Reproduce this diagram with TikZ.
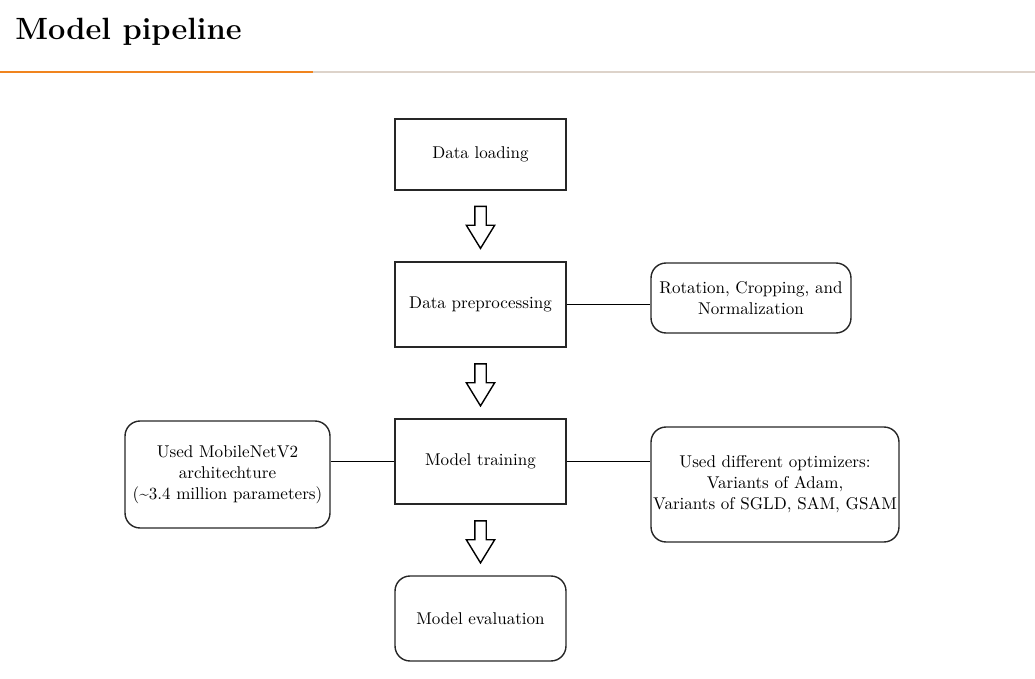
\documentclass[tikz,border=0pt]{standalone}
\usepackage{tikz}
\usetikzlibrary{shapes.arrows,calc}

\definecolor{headorange}{HTML}{F0841E}
\definecolor{headgray}{HTML}{DDD3CA}

\tikzset{
	stepbox/.style={draw=black!85, line width=0.8pt, align=center, font=\fontsize{9.7}{12}\selectfont, inner xsep=1pt, inner ysep=2pt},
	notebox/.style={stepbox, rounded corners=0.3cm},
	blockarrow/.style={single arrow, draw, line width=0.8pt, rotate=-90, anchor=tail, minimum height=0.84cm, inner xsep=0pt, inner ysep=0.1cm, single arrow head extend=0.17cm, single arrow tip angle=63},
	link/.style={line width=0.8pt}
}

\begin{document}
\begin{tikzpicture}[x=0.02cm, y=-0.02cm]
		\useasboundingbox (0,0) rectangle (1035,679);
		%title and rule
		\node[anchor=base west, inner sep=0pt, font=\fontsize{17.5}{21}\selectfont\bfseries] (title) at (15,40) {Model pipeline};
		\draw[headgray, line width=0.8pt] (313,72) -- (1035,72);
		\draw[headorange, line width=0.8pt] (0,72) -- (313,72);
		
		\node[stepbox, minimum width=3.42cm, minimum height=1.42cm] (load) at (480.5,154.5) {Data loading};
		\node[stepbox, minimum width=3.42cm, minimum height=1.7cm] (pre) at (480.5,304.5) {Data preprocessing};
		\node[stepbox, minimum width=3.42cm, minimum height=1.7cm] (train) at (480.5,461.5) {Model training};
		\node[notebox, minimum width=3.42cm, minimum height=1.7cm] (eval) at (480.5,618.5) {Model evaluation};
		
		\node[notebox, minimum width=4cm, minimum height=1.4cm] (aug) at (751,298) {Rotation, Cropping, and\\Normalization};
		\node[notebox, minimum width=4.1cm, minimum height=2.14cm] (arch) at (227.5,474.5) {Used MobileNetV2\\architechture\\(\textasciitilde3.4 million parameters)};
		\node[notebox, minimum width=4.96cm, minimum height=2.3cm] (opt) at (775,484.5) {Used different optimizers:\\Variants of Adam,\\Variants of SGLD, SAM, GSAM};
		
		\node[blockarrow] (a1) at ([yshift=-0.3cm]load.south) {};
		\node[blockarrow] (a2) at ([yshift=-0.31cm]pre.south) {};
		\node[blockarrow] (a3) at ([yshift=-0.31cm]train.south) {};
		
		\draw[link] (pre.east) -- (pre.east -| aug.west);
		\draw[link] (train.west) -- (train.west -| arch.east);
		\draw[link] (train.east) -- (train.east -| opt.west);
	\end{tikzpicture}
\end{document}
